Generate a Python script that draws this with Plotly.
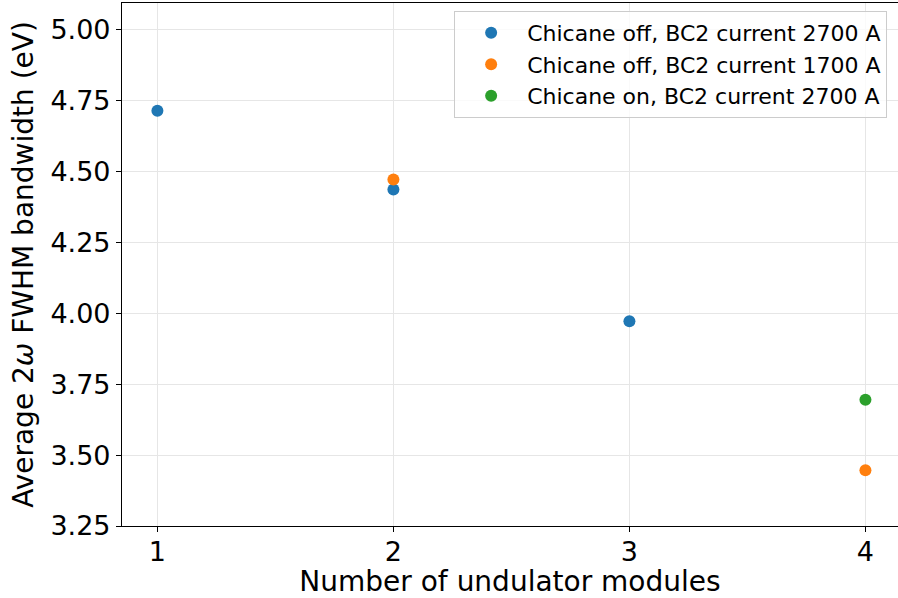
import plotly.graph_objects as go

modules_a = [1, 2, 3]
bw_a = [4.715, 4.437, 3.972]
modules_b = [2, 4]
bw_b = [4.472, 3.447]
modules_c = [4]
bw_c = [3.695]

names = ["Chicane off, BC2 current 2700 A",
         "Chicane off, BC2 current 1700 A",
         "Chicane on, BC2 current 2700 A"]
colors = ["#1f77b4", "#ff7f0e", "#2ca02c"]

fig = go.Figure()
for i, (xs, ys) in enumerate([(modules_a, bw_a), (modules_b, bw_b), (modules_c, bw_c)]):
    fig.add_trace(go.Scatter(x=xs, y=ys, mode="markers", name=names[i],
                             legendgroup=f"g{i}",
                             marker=dict(color=colors[i], size=12, line=dict(width=0))))

font = "DejaVu Sans"
fig.update_layout(
    width=898, height=598,
    margin=dict(l=122, r=0, t=3, b=72),
    paper_bgcolor="white", plot_bgcolor="white",
    font=dict(family=font, color="black"),
    showlegend=True,
    legend=dict(x=0.986, xanchor="right", y=0.985, yanchor="top",
                bgcolor="rgba(255,255,255,0.8)", bordercolor="#cccccc", borderwidth=1,
                font=dict(size=22, family=font), tracegroupgap=0,
                itemsizing="trace", itemwidth=62),
    xaxis=dict(range=[0.85, 4.138], tickvals=[1, 2, 3, 4], ticktext=["1", "2", "3", "4"],
               showline=True, linecolor="black", linewidth=1.2, mirror=True,
               ticks="outside", ticklen=5, tickcolor="black", tickwidth=1.2,
               ticklabelstandoff=-4,
               showgrid=True, gridcolor="#e6e6e6", gridwidth=1, zeroline=False,
               tickfont=dict(size=27),
               title=dict(text="Number of undulator modules", font=dict(size=28), standoff=6)),
    yaxis=dict(range=[3.25, 5.095], tickvals=[3.25, 3.5, 3.75, 4.0, 4.25, 4.5, 4.75, 5.0],
               ticktext=["3.25", "3.50", "3.75", "4.00", "4.25", "4.50", "4.75", "5.00"],
               showline=True, linecolor="black", linewidth=1.2, mirror=False,
               ticks="outside", ticklen=5, tickcolor="black", tickwidth=1.2,
               showgrid=True, gridcolor="#e6e6e6", gridwidth=1, zeroline=False,
               tickfont=dict(size=27),
               title=dict(text="Average 2<i>ω</i> FWHM bandwidth (eV)", font=dict(size=28), standoff=8)),
)
fig.write_html("out.html", post_script="document.body.style.margin='0';",
               config={"displayModeBar": False})
